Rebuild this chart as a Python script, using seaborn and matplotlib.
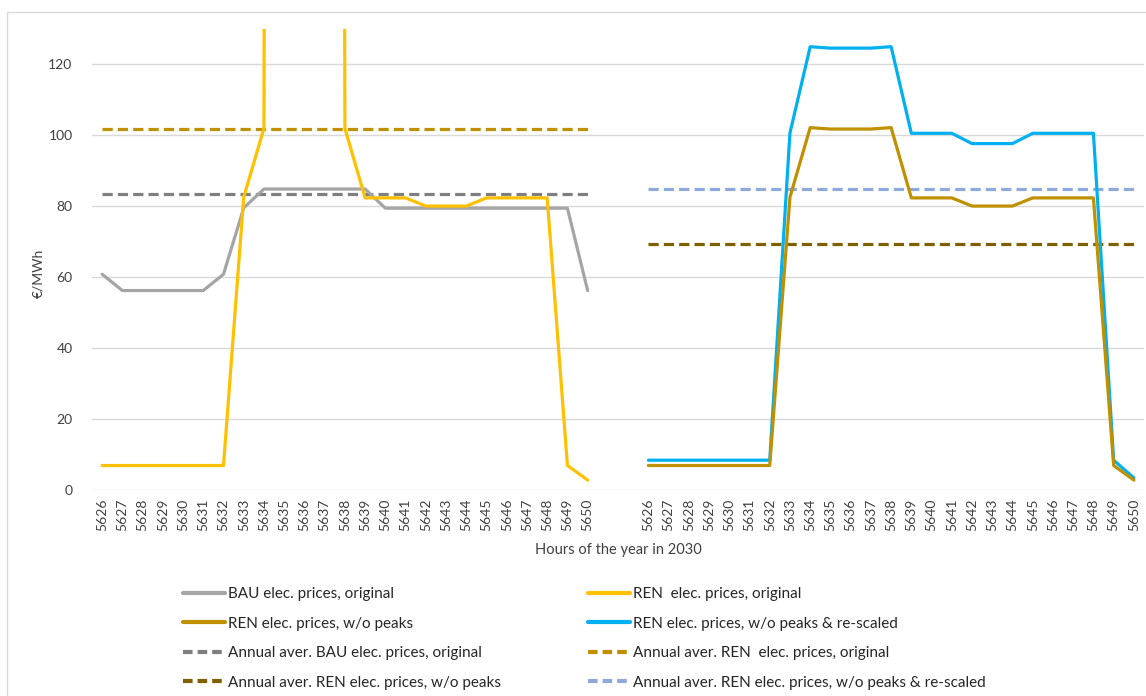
import matplotlib
matplotlib.use("Agg")
import matplotlib.pyplot as plt
import seaborn as sns
import numpy as np
import pandas as pd
from matplotlib.lines import Line2D
from matplotlib.patches import Rectangle

# ---------------- data ----------------
hours = ["5626", "5627", "5628", "5629", "5630", "5631", "5632", "5633", "5634",
         "5635", "5636", "5637", "5638", "5639", "5640", "5641", "5642", "5643",
         "5644", "5645", "5646", "5647", "5648", "5649", "5650"]

bau_orig = [60.8, 56.2, 56.2, 56.2, 56.2, 56.2, 60.8, 79.5, 84.8, 84.8, 84.8, 84.8,
            84.8, 84.8, 79.4, 79.4, 79.4, 79.4, 79.4, 79.4, 79.4, 79.4, 79.4, 79.4, 56.2]
ren_orig = [6.9, 6.9, 6.9, 6.9, 6.9, 6.9, 6.9, 82.5, 101.9, 3000.0, 3000.0, 3000.0,
            101.9, 82.3, 82.3, 82.3, 80.0, 80.0, 80.0, 82.3, 82.3, 82.3, 82.3, 6.9, 2.8]
ren_nopeak = [6.9, 6.9, 6.9, 6.9, 6.9, 6.9, 6.9, 82.5, 102.1, 101.7, 101.7, 101.7,
              102.1, 82.3, 82.3, 82.3, 80.0, 80.0, 80.0, 82.3, 82.3, 82.3, 82.3, 6.9, 2.8]
ren_rescaled = [8.4, 8.4, 8.4, 8.4, 8.4, 8.4, 8.4, 100.6, 124.9, 124.5, 124.5, 124.5,
                124.9, 100.5, 100.5, 100.5, 97.6, 97.6, 97.6, 100.5, 100.5, 100.5, 100.5, 8.4, 3.4]

avg_bau_orig = 83.3
avg_ren_orig = 101.7
avg_ren_nopeak = 69.3
avg_ren_rescaled = 84.8

labels = {
    "bau": "BAU elec. prices, original",
    "ren": "REN  elec. prices, original",
    "nopeak": "REN elec. prices, w/o peaks",
    "resc": "REN elec. prices, w/o peaks & re-scaled",
    "avg_bau": "Annual aver. BAU elec. prices, original",
    "avg_ren": "Annual aver. REN  elec. prices, original",
    "avg_nopeak": "Annual aver. REN elec. prices, w/o peaks",
    "avg_resc": "Annual aver. REN elec. prices, w/o peaks & re-scaled",
}

# category layout: 25 hours, 2 blank slots, 25 hours
n = len(hours)
gap = 2
left_x = np.arange(n)
right_x = np.arange(n) + n + gap
all_ticks = np.concatenate([left_x, right_x])
all_ticklabels = hours + hours

# ---------------- style ----------------
sns.set_theme(style="white")
plt.rcParams["font.family"] = ["Lato", "DejaVu Sans"]

W, H = 1146, 696
fig = plt.figure(figsize=(W / 100, H / 100), dpi=100)
ax = fig.add_axes([92 / W, 1 - 490 / H, (1144 - 92) / W, (490 - 28.6) / H])

c_grey = "#A5A5A5"
c_yellow = "#FFC000"
c_gold = "#BF9000"
c_blue = "#00B0F0"
c_dgrey = "#7F7F7F"
c_olive = "#7F6000"
c_lblue = "#8EA9DB"
lw = 2.3
dash = (3.2, 1.6)

def solid(x, y, color):
    sns.lineplot(x=x, y=y, ax=ax, color=color, linewidth=lw, estimator=None,
                 sort=False, legend=False)

def dashed(x, val, color):
    sns.lineplot(x=x, y=[val] * len(x), ax=ax, color=color, linewidth=lw,
                 estimator=None, sort=False, legend=False, dashes=False)
    ax.lines[-1].set_dashes(dash)

# left group
dashed(left_x, avg_ren_orig, c_gold)
dashed(left_x, avg_bau_orig, c_dgrey)
solid(left_x, bau_orig, c_grey)
solid(left_x, ren_orig, c_yellow)
# right group
dashed(right_x, avg_ren_rescaled, c_lblue)
dashed(right_x, avg_ren_nopeak, c_olive)
solid(right_x, ren_rescaled, c_blue)
solid(right_x, ren_nopeak, c_gold)

ax.set_ylim(0, 130)
ax.set_xlim(-0.5, right_x[-1] + 0.5)
ax.set_yticks([0, 20, 40, 60, 80, 100, 120])
ax.set_xticks(all_ticks)
ax.set_xticklabels(all_ticklabels, rotation=90, fontsize=10, color="#404040")
ax.tick_params(axis="y", labelsize=10, labelcolor="#404040", length=0, pad=14)
ax.tick_params(axis="x", length=0, pad=6)
ax.grid(axis="y", color="#D9D9D9", linewidth=1)
ax.set_axisbelow(True)
for s in ax.spines.values():
    s.set_visible(False)
ax.set_xlabel("")
ax.set_ylabel("")

fig.text(38 / W, 1 - 273 / H, "€/MWh", rotation=90, ha="center", va="center",
         fontsize=10, color="#404040")
fig.text(618 / W, 1 - 550 / H, "Hours of the year in 2030", ha="center", va="center",
         fontsize=10.5, color="#404040")

# chart border
fig.patches.append(Rectangle((7 / W, -0.1), 1.2, 1 - 12 / H + 0.1, transform=fig.transFigure,
                             fill=False, edgecolor="#D9D9D9", linewidth=1))

# legends (two columns)
def h_solid(c):
    return Line2D([], [], color=c, linewidth=3)

def h_dash(c):
    return Line2D([], [], color=c, linewidth=3, dashes=(2.3, 1.2))

col1 = [(h_solid(c_grey), labels["bau"]), (h_solid(c_gold), labels["nopeak"]),
        (h_dash(c_dgrey), labels["avg_bau"]), (h_dash(c_olive), labels["avg_nopeak"])]
col2 = [(h_solid(c_yellow), labels["ren"]), (h_solid(c_blue), labels["resc"]),
        (h_dash(c_gold), labels["avg_ren"]), (h_dash(c_lblue), labels["avg_resc"])]

for items, xpos in [(col1, 183), (col2, 588)]:
    leg = fig.legend([i[0] for i in items], [i[1] for i in items],
                     loc="upper left", bbox_to_anchor=(xpos / W, 1 - 587 / H),
                     frameon=False, fontsize=11, handlelength=2.75, handletextpad=0.2,
                     labelspacing=1.02, borderaxespad=0, borderpad=0)
    for t in leg.get_texts():
        t.set_color("#262626")

fig.savefig("out.png", dpi=100)
